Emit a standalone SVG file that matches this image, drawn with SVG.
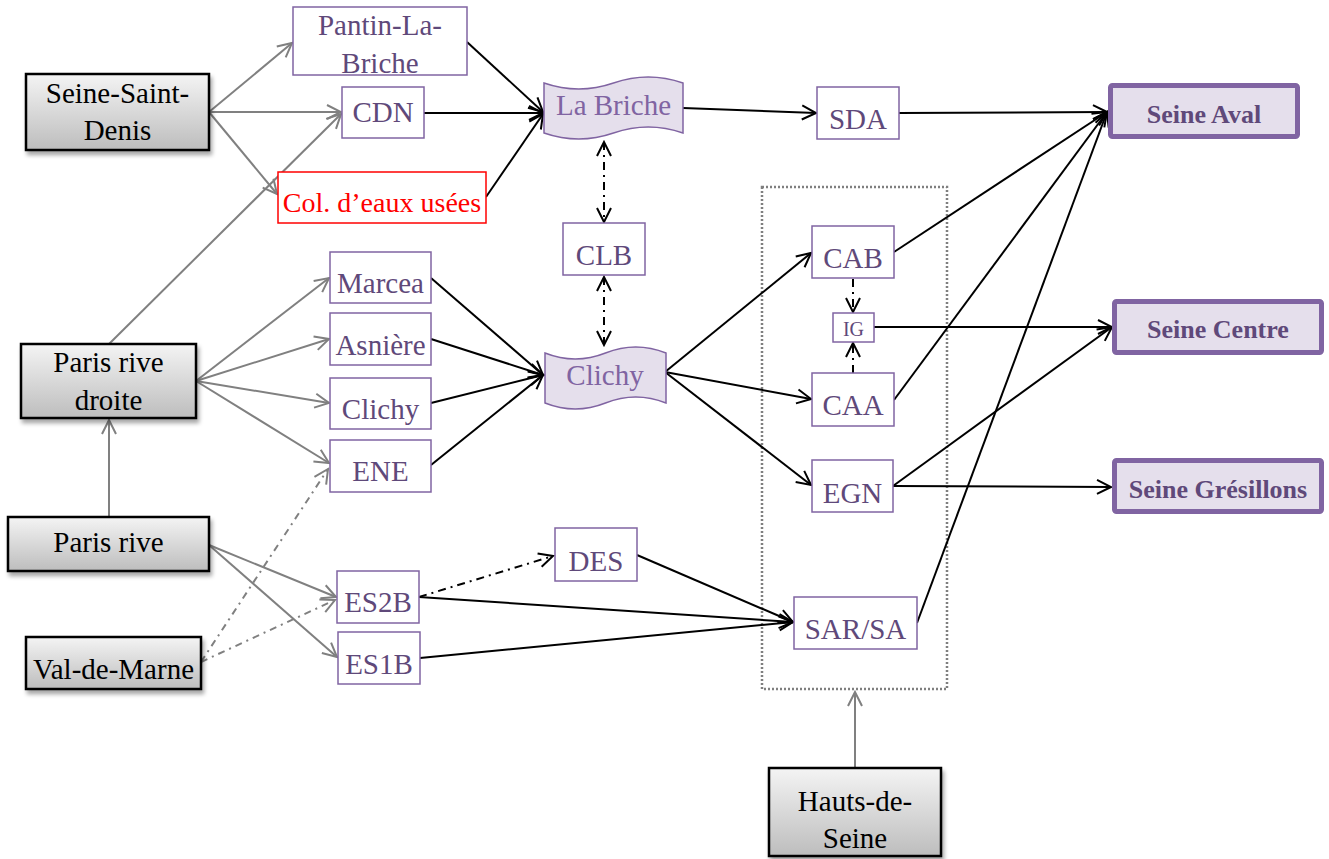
<svg xmlns="http://www.w3.org/2000/svg" width="1329" height="859" viewBox="0 0 1329 859">
<style>
text{font-family:'Liberation Serif','DejaVu Serif',serif;font-size:29px;text-anchor:middle}
.src rect{fill:url(#gg);stroke:#000;stroke-width:2.5;filter:url(#sh)}
.src text{fill:#000}
.pn rect{fill:#fff;stroke:#8064a2;stroke-width:1.5}
.pn text{fill:#5f497a}
.wv path{fill:#e5dfec;stroke:#8064a2;stroke-width:1.5}
.wv text{fill:#8064a2}
.out rect{fill:#e5dfec;stroke:#8064a2;stroke-width:5}
.out text{fill:#5f497a;font-weight:bold;font-size:26px}
.k{stroke:#000;stroke-width:2;fill:none;marker-end:url(#ak)}
.g{stroke:#808080;stroke-width:2;fill:none;marker-end:url(#ag)}
.kd{stroke:#000;stroke-width:2;fill:none;stroke-dasharray:8 5 2 5;marker-end:url(#ak)}
.kdd{stroke:#000;stroke-width:2;fill:none;stroke-dasharray:8 5 2 5;marker-end:url(#ak);marker-start:url(#ak)}
.gd{stroke:#808080;stroke-width:2;fill:none;stroke-dasharray:7 5 2 5;marker-end:url(#ag)}
</style>
<defs>
<linearGradient id="gg" x1="0" y1="0" x2="0" y2="1">
<stop offset="0" stop-color="#f4f4f4"/>
<stop offset="1" stop-color="#bdbdbd"/>
</linearGradient>
<filter id="sh" x="-10%" y="-10%" width="125%" height="140%">
<feGaussianBlur in="SourceAlpha" stdDeviation="2"/>
<feOffset dx="2" dy="4" result="b"/>
<feComponentTransfer><feFuncA type="linear" slope="0.35"/></feComponentTransfer>
<feMerge><feMergeNode/><feMergeNode in="SourceGraphic"/></feMerge>
</filter>
<marker id="ak" viewBox="-16 -9 18 18" refX="0" refY="0" markerWidth="18" markerHeight="18" markerUnits="userSpaceOnUse" orient="auto-start-reverse">
<path d="M-14,-7 L0,0 L-14,7" fill="none" stroke="#000" stroke-width="2"/>
</marker>
<marker id="ag" viewBox="-16 -9 18 18" refX="0" refY="0" markerWidth="18" markerHeight="18" markerUnits="userSpaceOnUse" orient="auto">
<path d="M-14,-7 L0,0 L-14,7" fill="none" stroke="#808080" stroke-width="2"/>
</marker>
</defs>
<rect width="1329" height="859" fill="#fff"/>

<g id="groupe-box">
<rect x="762" y="187" width="185" height="502" fill="none" stroke="#7f7f7f" stroke-width="2.5" stroke-dasharray="2 2"/>
</g>

<g id="connectors">
<line class="g" x1="209" y1="112" x2="292" y2="43"/>
<line class="g" x1="209" y1="112" x2="341" y2="112"/>
<line class="g" x1="209" y1="112" x2="277" y2="194"/>
<line class="g" x1="109" y1="344" x2="341" y2="114"/>
<line class="g" x1="196" y1="381" x2="329" y2="278"/>
<line class="g" x1="196" y1="381" x2="329" y2="339"/>
<line class="g" x1="196" y1="381" x2="329" y2="403"/>
<line class="g" x1="196" y1="381" x2="329" y2="463"/>
<line class="g" x1="109" y1="517" x2="109" y2="420"/>
<line class="g" x1="209" y1="545" x2="336" y2="597"/>
<line class="g" x1="209" y1="545" x2="337" y2="657"/>
<line class="gd" x1="201" y1="662" x2="328" y2="469"/>
<line class="gd" x1="201" y1="662" x2="335" y2="600"/>
<line class="g" x1="855" y1="768" x2="855" y2="692"/>
<line class="k" x1="467" y1="42" x2="543" y2="112"/>
<line class="k" x1="424" y1="113" x2="543" y2="113"/>
<line class="k" x1="486" y1="197" x2="543" y2="114"/>
<line class="k" x1="683" y1="108" x2="816" y2="113"/>
<line class="k" x1="899" y1="113" x2="1107" y2="112"/>
<line class="kdd" x1="604" y1="142" x2="604" y2="222"/>
<line class="kdd" x1="604" y1="277" x2="604" y2="345"/>
<line class="k" x1="431" y1="278" x2="543" y2="375"/>
<line class="k" x1="431" y1="339" x2="543" y2="375"/>
<line class="k" x1="431" y1="403" x2="543" y2="375"/>
<line class="k" x1="431" y1="465" x2="543" y2="375"/>
<line class="k" x1="665" y1="372" x2="811" y2="253"/>
<line class="k" x1="665" y1="372" x2="811" y2="399"/>
<line class="k" x1="665" y1="372" x2="811" y2="485"/>
<line class="kd" x1="853" y1="279" x2="853" y2="312"/>
<line class="kd" x1="853" y1="373" x2="853" y2="343"/>
<line class="k" x1="894" y1="252" x2="1107" y2="112"/>
<line class="k" x1="874" y1="327" x2="1112" y2="327"/>
<line class="k" x1="894" y1="400" x2="1107" y2="112"/>
<line class="k" x1="893" y1="486" x2="1112" y2="327"/>
<line class="k" x1="893" y1="486" x2="1111" y2="487"/>
<line class="k" x1="917" y1="623" x2="1107" y2="112"/>
<line class="k" x1="637" y1="555" x2="793" y2="622"/>
<line class="k" x1="419" y1="597" x2="793" y2="622"/>
<line class="k" x1="420" y1="658" x2="793" y2="622"/>
<line class="kd" x1="419" y1="597" x2="553" y2="556"/>
</g>

<g id="seine-saint-denis" class="src"><rect x="26" y="74" width="183" height="76"/><text x="117.5" y="103">Seine-Saint-</text><text x="117.5" y="140">Denis</text></g>
<g id="paris-rive-droite" class="src"><rect x="21" y="344" width="175" height="74"/><text x="108.5" y="372">Paris rive</text><text x="108.5" y="410">droite</text></g>
<g id="paris-rive" class="src"><rect x="8" y="517" width="201" height="54"/><text x="108.5" y="552">Paris rive</text></g>
<g id="val-de-marne" class="src"><rect x="26" y="637" width="175" height="52"/><text x="113.5" y="679">Val-de-Marne</text></g>
<g id="hauts-de-seine" class="src"><rect x="769" y="768" width="172" height="88"/><text x="855" y="811">Hauts-de-</text><text x="855" y="848">Seine</text></g>

<g id="pantin-la-briche" class="pn"><rect x="293" y="7" width="174" height="68"/><text x="380" y="35">Pantin-La-</text><text x="380" y="73">Briche</text></g>
<g id="cdn" class="pn"><rect x="342" y="87" width="82" height="51"/><text x="383" y="122">CDN</text></g>
<g id="col-eaux-usees"><rect x="278" y="172" width="208" height="51" fill="#fff" stroke="#ff0000" stroke-width="1.5"/><text x="382" y="212" fill="#ff0000" style="font-size:28px">Col. d’eaux usées</text></g>
<g id="marcea" class="pn"><rect x="330" y="252" width="101" height="51"/><text x="380.5" y="293">Marcea</text></g>
<g id="asniere" class="pn"><rect x="330" y="313" width="101" height="52"/><text x="380.5" y="355">Asnière</text></g>
<g id="clichy-box" class="pn"><rect x="330" y="378" width="101" height="51"/><text x="380.5" y="419">Clichy</text></g>
<g id="ene" class="pn"><rect x="330" y="440" width="101" height="52"/><text x="380.5" y="481">ENE</text></g>
<g id="es2b" class="pn"><rect x="337" y="571" width="82" height="52"/><text x="378" y="612">ES2B</text></g>
<g id="es1b" class="pn"><rect x="338" y="632" width="82" height="52"/><text x="379" y="674">ES1B</text></g>

<g id="la-briche" class="wv"><path d="M544,83 Q578.75,95 613.5,83 Q648.25,71 683,83 L683,133 Q648.25,121 613.5,133 Q578.75,145 544,133 Z"/><text x="613.5" y="115">La Briche</text></g>
<g id="clb" class="pn"><rect x="563" y="223" width="82" height="52"/><text x="604" y="265">CLB</text></g>
<g id="clichy" class="wv"><path d="M545,353 Q575.25,365 605.5,353 Q635.75,341 666,353 L666,403 Q635.75,391 605.5,403 Q575.25,415 545,403 Z"/><text x="605" y="385">Clichy</text></g>
<g id="des" class="pn"><rect x="555" y="528" width="82" height="53"/><text x="596" y="571">DES</text></g>

<g id="sda" class="pn"><rect x="817" y="87" width="82" height="52"/><text x="858" y="129">SDA</text></g>
<g id="cab" class="pn"><rect x="812" y="226" width="82" height="52"/><text x="853" y="268">CAB</text></g>
<g id="ig" class="pn"><rect x="833" y="313" width="41" height="29"/><text x="853.5" y="336" style="font-size:20px">IG</text></g>
<g id="caa" class="pn"><rect x="812" y="373" width="82" height="53"/><text x="853" y="415">CAA</text></g>
<g id="egn" class="pn"><rect x="812" y="460" width="81" height="52"/><text x="852.5" y="503">EGN</text></g>
<g id="sar-sa" class="pn"><rect x="794" y="597" width="123" height="52"/><text x="855.5" y="639">SAR/SA</text></g>

<g id="seine-aval" class="out"><rect x="1110.5" y="85.5" width="187" height="51" rx="2"/><text x="1204" y="123">Seine Aval</text></g>
<g id="seine-centre" class="out"><rect x="1114.5" y="301.5" width="207" height="51" rx="2"/><text x="1218" y="338">Seine Centre</text></g>
<g id="seine-gresillons" class="out"><rect x="1114.5" y="460.5" width="207" height="51" rx="2"/><text x="1218" y="498">Seine Grésillons</text></g>
</svg>
